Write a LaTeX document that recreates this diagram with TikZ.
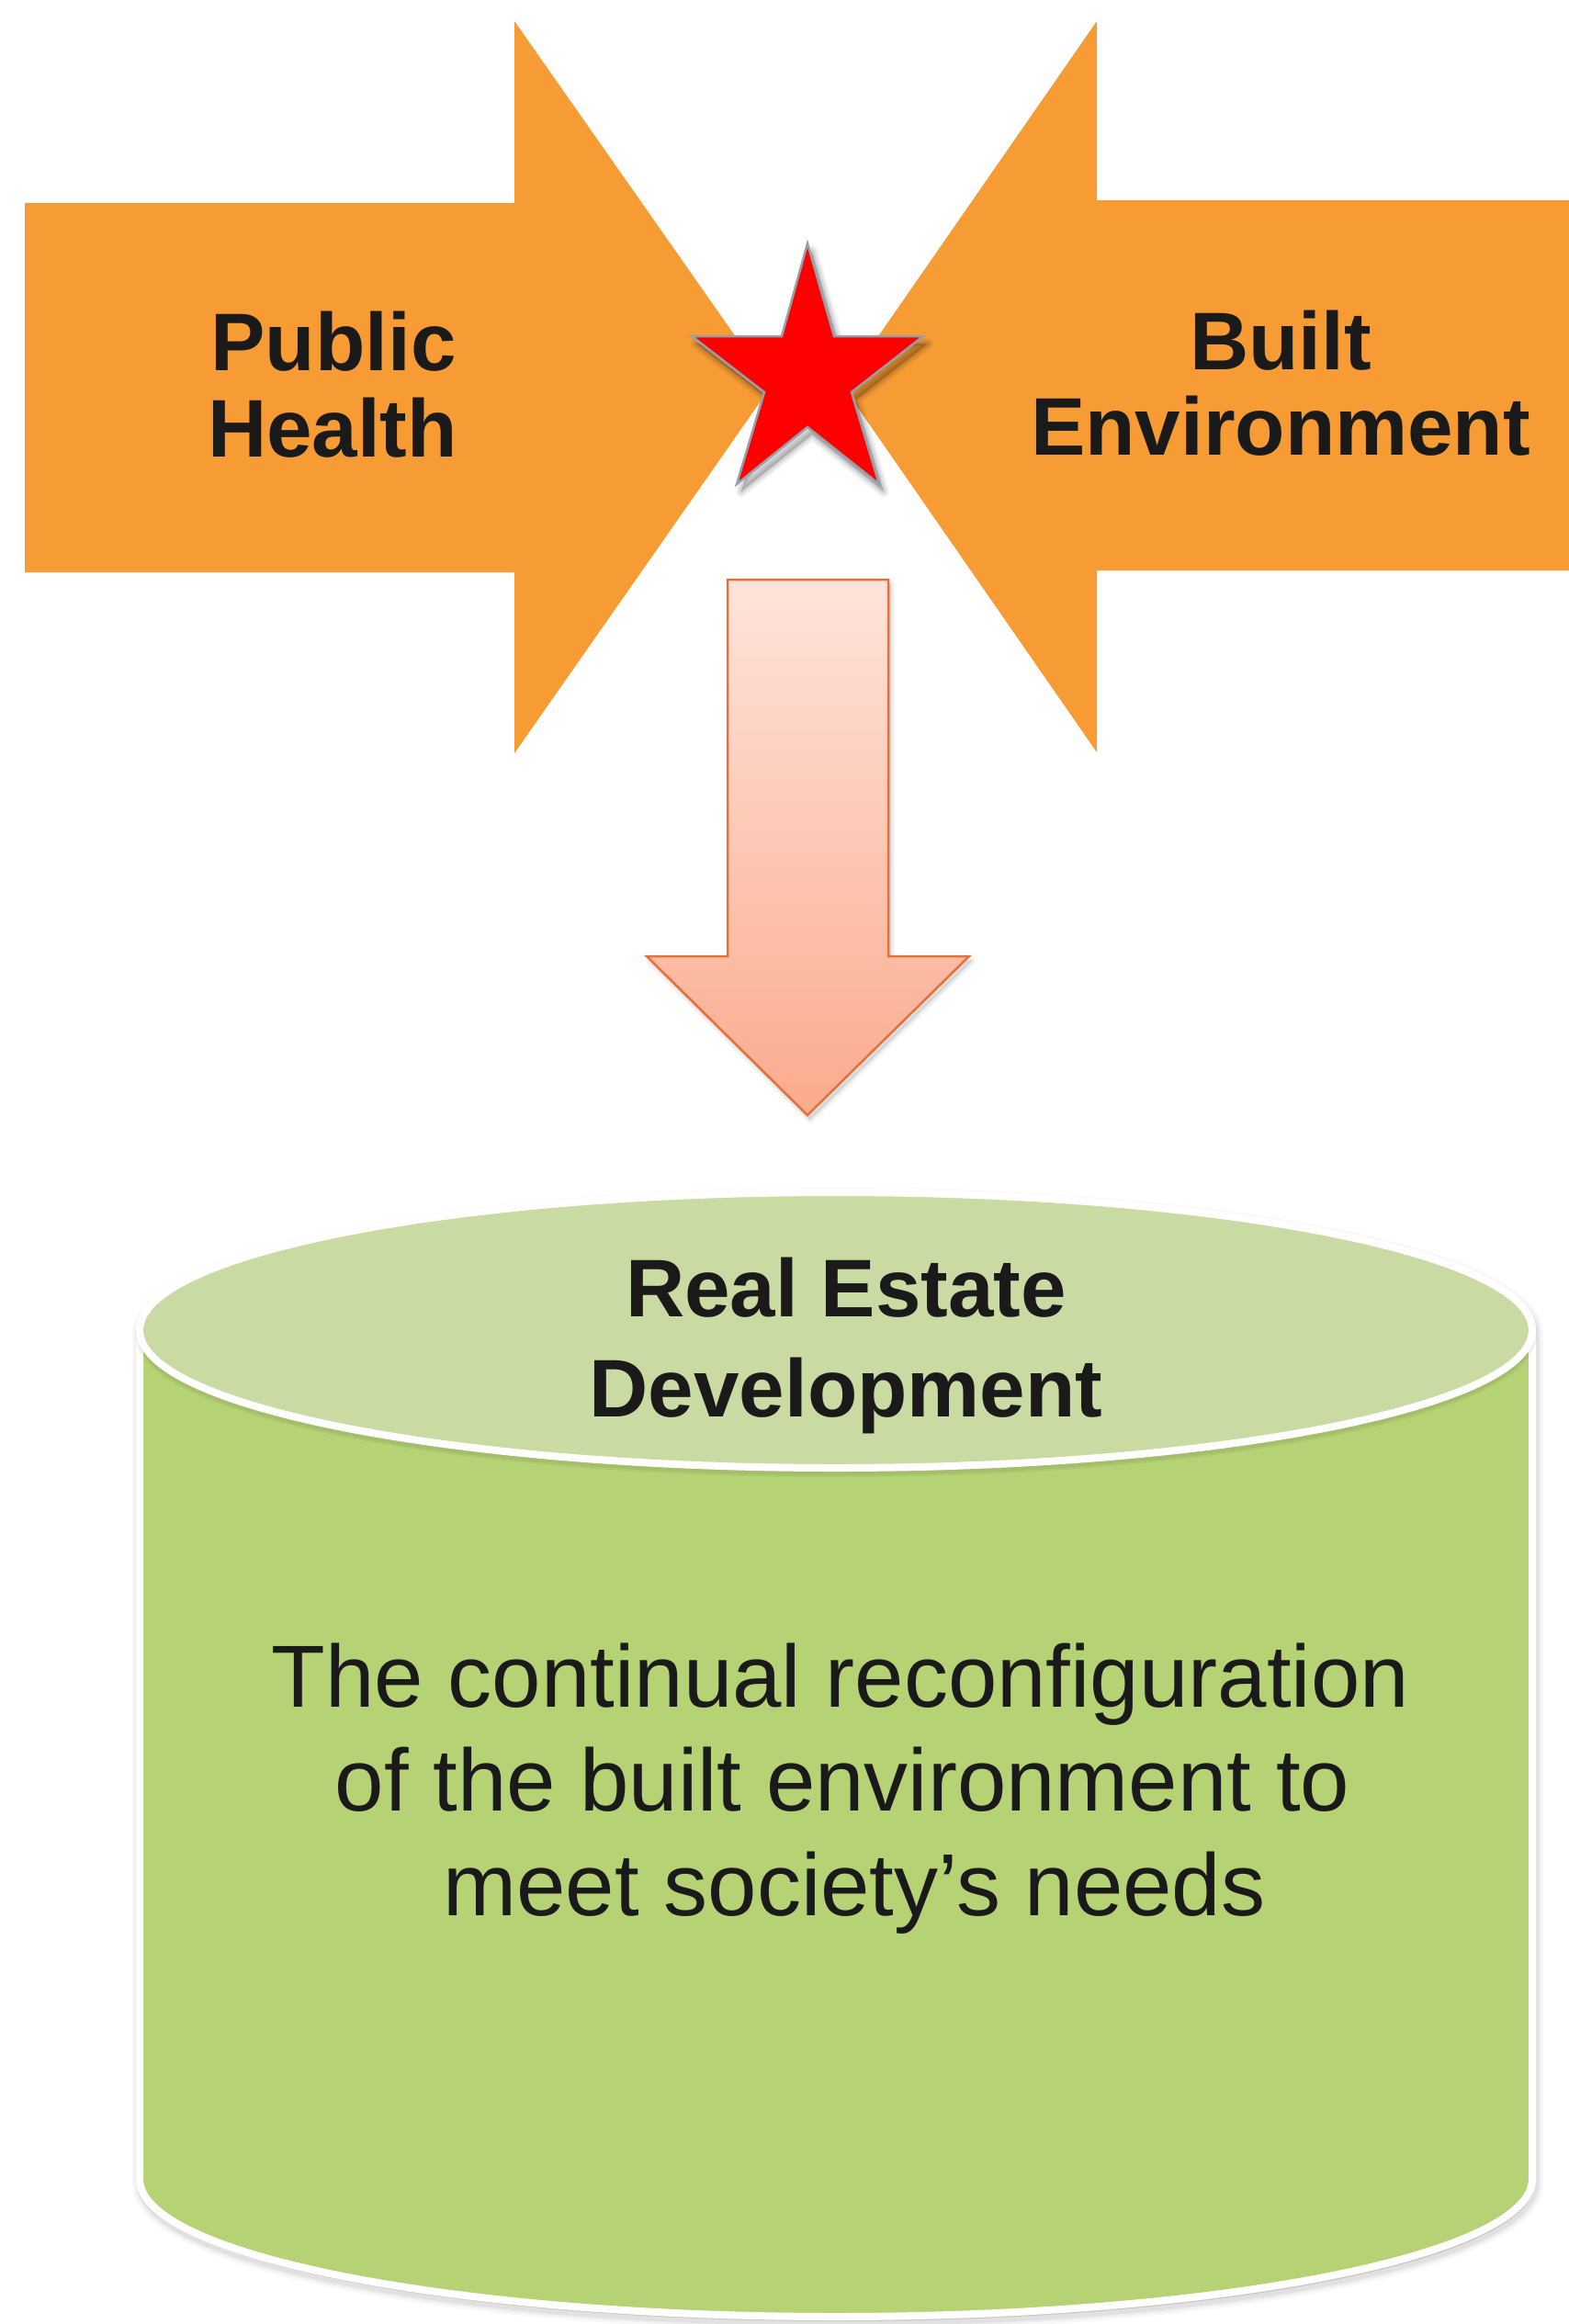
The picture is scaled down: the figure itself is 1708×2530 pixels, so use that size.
\documentclass[tikz,border=0pt]{standalone}
\usepackage{fontspec}
\setmainfont{Liberation Sans}
\begin{document}
\begin{tikzpicture}[x=1pt,y=-1pt]
  \definecolor{arroworange}{RGB}{247,155,52}
  \definecolor{starred}{RGB}{255,0,0}
  \definecolor{staredge}{RGB}{150,160,170}
  \definecolor{downtop}{RGB}{254,228,219}
  \definecolor{downbottom}{RGB}{251,170,141}
  \definecolor{downedge}{RGB}{228,112,58}
  \definecolor{canbody}{RGB}{181,210,117}
  \definecolor{cantop}{RGB}{201,219,162}
  \definecolor{inktext}{RGB}{26,26,26}
  \tikzset{
    headline/.style={text=inktext, inner sep=0pt, anchor=base,
      font=\fontsize{89}{94}\selectfont\bfseries},
    bodyline/.style={text=inktext, inner sep=0pt, anchor=base,
      font=\fontsize{96}{114}\selectfont},
    softshade/.style={black, line join=round}
  }
  \useasboundingbox (0,0) rectangle (1708,2530);

  % outlines used more than once (shadow + shape)
  \def\starpts{(879,265) -- (908,366) -- (1005,366) -- (927,427) -- (957,527)
    -- (879,465) -- (802,527) -- (832,427) -- (753,366) -- (851,366) -- cycle}
  \def\downpts{(792,631) -- (967,631) -- (967,1041) -- (1055,1041) -- (879,1214)
    -- (704,1041) -- (792,1041) -- cycle}
  \def\canpts{(152,1448) -- (152,2372) arc[start angle=180, end angle=0,
    x radius=758, y radius=150] -- (1668,1448) arc[start angle=0, end angle=-180,
    x radius=758, y radius=150] -- cycle}

  % converging arrows
  \fill[arroworange] (27,221) -- (560,221) -- (560,23) -- (839,421)
    -- (560,820) -- (560,623) -- (27,623) -- cycle;
  \fill[arroworange] (1708,218) -- (1194,218) -- (1194,23) -- (918,421)
    -- (1194,819) -- (1194,621) -- (1708,621) -- cycle;

  % star with soft shadow
  \begin{scope}[shift={(5,8)}]
    \foreach \w/\o in {12/0.05,8/0.06,4/0.08}
      \filldraw[softshade, opacity=\o, line width=\w] \starpts;
  \end{scope}
  \filldraw[fill=starred, draw=staredge, line width=2.5, line join=miter] \starpts;

  % downward arrow
  \begin{scope}[shift={(3,5)}]
    \foreach \w/\o in {8/0.04,4/0.05}
      \filldraw[softshade, opacity=\o, line width=\w] \downpts;
  \end{scope}
  \shade[top color=downtop, bottom color=downbottom] \downpts;
  \draw[downedge, line width=2.5, line join=miter] \downpts;

  % cylinder
  \begin{scope}[shift={(2,5)}]
    \foreach \w/\o in {20/0.03,14/0.04,10/0.05}
      \filldraw[softshade, opacity=\o, line width=\w] \canpts;
  \end{scope}
  \filldraw[fill=canbody, draw=white, line width=8] \canpts;
  \begin{scope}[shift={(0,5)}]
    \foreach \w/\o in {10/0.04,6/0.05}
      \draw[softshade, opacity=\o, line width=\w] (910,1448) ellipse[x radius=758, y radius=150];
  \end{scope}
  \filldraw[fill=cantop, draw=white, line width=8] (910,1448) ellipse[x radius=758, y radius=150];

  % labels
  \node[headline] (ph1) at (363,403) {Public};
  \node[headline] (ph2) at (362,497) {Health};
  \node[headline] (be1) at (1394,402) {Built};
  \node[headline] (be2) at (1394,495) {Environment};
  \node[headline] (re1) at (921,1433) {Real Estate};
  \node[headline] (re2) at (921,1542) {Development};
  \node[bodyline] (tx1) at (915,1858) {The continual reconfiguration};
  \node[bodyline] (tx2) at (917,1971) {of the built environment to};
  \node[bodyline] (tx3) at (930,2085) {meet society’s needs};
\end{tikzpicture}
\end{document}
